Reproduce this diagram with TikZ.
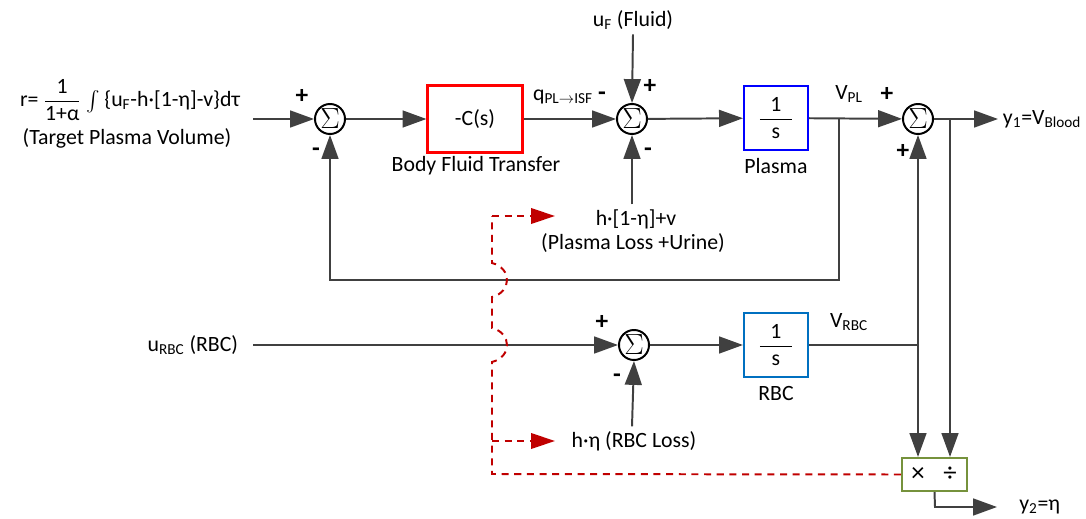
\documentclass[tikz,border=0pt]{standalone}
\usepackage{amsmath}
\usepackage{fontspec}
\setmainfont{Carlito}
\usetikzlibrary{arrows.meta}
\definecolor{linegray}{RGB}{64,64,64}
\definecolor{boxred}{RGB}{255,0,0}
\definecolor{boxblue}{RGB}{0,0,255}
\definecolor{rbcblue}{RGB}{0,112,192}
\definecolor{mulgreen}{RGB}{118,146,60}
\definecolor{lossred}{RGB}{192,0,0}
\begin{document}
\begin{tikzpicture}[x=0.025cm, y=-0.025cm, font=\fontsize{15.5}{18}\selectfont,
  >={Triangle[length=17pt,width=12pt]},
  wire/.style={draw=linegray, line width=1.4pt},
  sumnode/.style={circle, draw=black, line width=1.4pt, minimum size=0.75cm, inner sep=0pt,
    font=\fontsize{20}{20}\selectfont},
  tfbox/.style={draw, line width=1.5pt, minimum width=1.6cm, minimum height=1.6cm},
  sign/.style={font=\fontsize{18}{18}\selectfont\bfseries, inner sep=0pt},
  lossline/.style={draw=lossred, line width=1.4pt, dash pattern=on 5pt off 4pt,
    >={Triangle[length=17pt,width=11pt]}, color=lossred},
]
\useasboundingbox (0,0) rectangle (1086,519);

% plasma loop
\node (rdef) at (130,100) {r= $\dfrac{\mbox{1}}{\mbox{1+α}}$ $\int$ \{u\textsubscript{F}-h·[1-η]-v\}dτ};
\node (rtxt) at (127,138) {(Target Plasma Volume)};
\coordinate (rin) at (253,119);
\node (sumA) [sumnode] at (330,119) {$\Sigma$};
\node (ctf) [tfbox, draw=boxred, minimum width=2.375cm, minimum height=1.675cm] at (475,119) {-C(s)};
\node (ctftxt) at (476,166) {Body Fluid Transfer};
\node (sumB) [sumnode] at (632,119) {$\Sigma$};
\node (uf) at (633,20) {u\textsubscript{F} (Fluid)};
\node (qpl) at (563,97) {q\textsubscript{PL$\rightarrow$ISF}};
\node (lossA) at (636,219) {h·[1-η]+v};
\node (lossAtxt) at (633,243) {(Plasma Loss +Urine)};
\node (plasma) [tfbox, draw=boxblue] at (776,118) {$\dfrac{\mbox{1}}{\makebox[23pt]{s}}$};
\node (plasmatxt) at (776,166) {Plasma};
\node (vpl) at (849,94) {V\textsubscript{PL}};
\node (sumC) [sumnode] at (918,119) {$\Sigma$};
\node (yone) [anchor=west] at (998,119) {y\textsubscript{1}=V\textsubscript{Blood}};
\coordinate (fb) at (839,119);

% signs
\node [sign] at (302,96) {+};
\node [sign] at (316,152) {-};
\node [sign] at (602,96) {-};
\node [sign] at (650,86) {+};
\node [sign] at (648,152) {-};
\node [sign] at (887,94) {+};
\node [sign] at (903,151) {+};
\node [sign] at (602,322) {+};
\node [sign] at (617,378) {-};

% RBC loop
\node (urbc) [anchor=east] at (243,345) {u\textsubscript{RBC} (RBC)};
\coordinate (urbcin) at (253,345);
\node (sumD) [sumnode] at (634,345) {$\Sigma$};
\node (lossB) at (634,441) {h·η (RBC Loss)};
\node (rbc) [tfbox, draw=rbcblue] at (776,345) {$\dfrac{\mbox{1}}{\makebox[23pt]{s}}$};
\node (rbctxt) at (776,393) {RBC};
\node (vrbc) at (849,322) {V\textsubscript{RBC}};

% ratio block
\node (muldiv) [draw=mulgreen, line width=1.5pt, minimum width=1.625cm, minimum height=0.825cm] at (934.5,474.5) {};
\node (mul) [font=\fontsize{19}{19}\selectfont] at (918,474) {×};
\node (dvd) [font=\fontsize{19}{19}\selectfont] at (950,474) {÷};
\node (ytwo) [anchor=west, inner xsep=0.55cm] at (997,507) {y\textsubscript{2}=η};

% connectors
\draw[wire,->] (rin) -- (sumA.west);
\draw[wire,->] (sumA) -- (ctf);
\draw[wire,->] (ctf) -- (sumB);
\draw[wire,->] (uf.south) -- (sumB.north);
\draw[wire,->] (sumB |- lossA.north) -- (sumB.south);
\draw[wire,->] (sumB) -- (plasma);
\draw[wire,->] (plasma) -- (sumC);
\draw[wire,->] (sumC) -- (yone.west);
\draw[wire,->] (fb) -- (fb |- 0,280) -| (sumA.south);
\draw[wire,->] (urbcin) -- (sumD.west);
\draw[wire,->] (sumB |- lossB.north) -- (sumD.south);
\draw[wire,->] (sumD) -- (rbc);
\draw[wire,->] (rbc.east) -| (sumC.south);
\draw[wire,->] (sumC |- rbc.east) -- (mul |- muldiv.north);
\draw[wire,->] (dvd |- sumC.east) -- (dvd |- muldiv.north);
\draw[wire,->] (muldiv.south) -- (935,507) -- (ytwo.west);

% loss estimate, hopping over the wires
\coordinate (lossAtip) at (555,216);
\coordinate (lossBtip) at (555,441);
\draw[lossline] (muldiv.west) -- (492,474) -- (492,362)
  .. controls (512,357) and (512,333) .. (492,328) -- (492,297)
  .. controls (512,292) and (512,268) .. (492,263) -- (492,216);
\draw[lossline,->] (492,216) -- (lossAtip);
\draw[lossline,->] (492,441) -- (lossBtip);
\end{tikzpicture}
\end{document}
